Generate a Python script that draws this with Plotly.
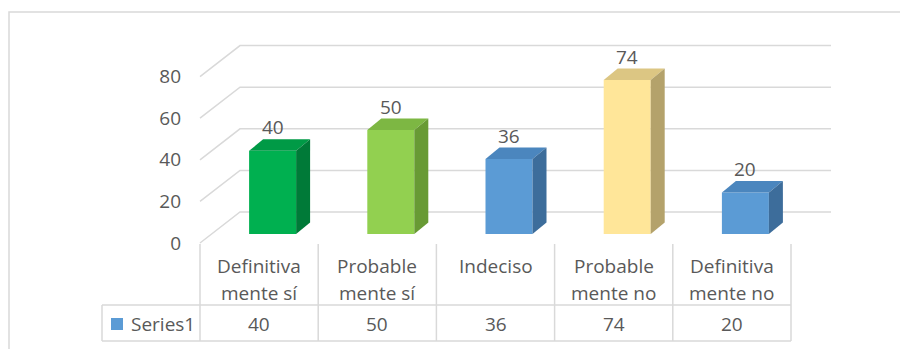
import plotly.graph_objects as go

# ---- data -------------------------------------------------------------
categories = ["Definitiva<br>mente sí", "Probable<br>mente sí", "Indeciso",
              "Probable<br>mente no", "Definitiva<br>mente no"]
values = [40, 50, 36, 74, 20]
series_name = "Series1"
y_ticks = [0, 20, 40, 60, 80]

# ---- styling ----------------------------------------------------------
front_colors = ["#00B050", "#92D050", "#5B9BD5", "#FFE699", "#5B9BD5"]
top_colors = ["#009A46", "#7DB743", "#4B86BE", "#DCC683", "#4B86BE"]
side_colors = ["#007A38", "#689A34", "#3D6D9B", "#B4A26B", "#3D6D9B"]
key_color = "#5B9BD5"
text_color = "#595959"
line_color = "#D9D9D9"
FONT = "Open Sans"
FS = 19

# ---- geometry (pixels of the 900x349 canvas) --------------------------
W, H = 900, 349
LEFT = 190            # left margin of the plot area
CAT_PX = 118.2        # width of one category column
UNIT_PX = 2.08        # pixels per value unit
FLOOR_PX = 243        # pixel row of value 0 on the front edge of the floor
TABLE_LEFT_PX = 200   # left edge of the first category column

x_lo = -0.5 - (TABLE_LEFT_PX - LEFT) / CAT_PX
x_hi = x_lo + (W - LEFT) / CAT_PX
y_hi = FLOOR_PX / UNIT_PX
y_lo = y_hi - H / UNIT_PX

# perspective offsets in data units
BACK_DX, BACK_DY = 40 / CAT_PX, 31 / UNIT_PX     # back wall
FRONT_DX, FRONT_DY = 13.5 / CAT_PX, 9 / UNIT_PX  # front face of the bars
DEPTH_DX, DEPTH_DY = 14 / CAT_PX, 11.5 / UNIT_PX  # bar depth
BAR_W = 47 / CAT_PX


def pxx(px):
    return (px - LEFT) / (W - LEFT)


def pxy(py):
    return 1 - py / H


n = len(values)
idx = list(range(n))
fig = go.Figure()

# front faces of the bars
fig.add_trace(go.Bar(
    x=[i + FRONT_DX for i in idx], y=values, base=FRONT_DY, width=BAR_W,
    marker=dict(color=front_colors, line=dict(width=0)),
    hoverinfo="skip", showlegend=False,
))

# top and side faces
for i, v in enumerate(values):
    L = i + FRONT_DX - BAR_W / 2
    R = i + FRONT_DX + BAR_W / 2
    B = FRONT_DY
    T = FRONT_DY + v
    fig.add_trace(go.Scatter(
        x=[L, R, R + DEPTH_DX, L + DEPTH_DX, L],
        y=[T, T, T + DEPTH_DY, T + DEPTH_DY, T],
        fill="toself", fillcolor=top_colors[i], mode="lines",
        line=dict(width=0), hoverinfo="skip", showlegend=False,
    ))
    fig.add_trace(go.Scatter(
        x=[R, R + DEPTH_DX, R + DEPTH_DX, R, R],
        y=[B, B + DEPTH_DY, T + DEPTH_DY, T, B],
        fill="toself", fillcolor=side_colors[i], mode="lines",
        line=dict(width=0), hoverinfo="skip", showlegend=False,
    ))

shapes = []
# gridlines: short diagonal on the floor side, then across the back wall
x_front = -0.5
x_back_end = n - 0.5 + BACK_DX
for t in y_ticks:
    shapes.append(dict(
        type="path", xref="x", yref="y", layer="below",
        path=(f"M {x_front},{t} L {x_front + BACK_DX},{t + BACK_DY} "
              f"L {x_back_end},{t + BACK_DY}"),
        line=dict(color=line_color, width=1.5),
    ))

# data table grid
ROW_TOP, ROW_MID, ROW_BOT = 244, 305, 341
KEY_LEFT = 102
for k in range(n + 1):
    shapes.append(dict(
        type="line", xref="x", yref="paper",
        x0=k - 0.5, x1=k - 0.5, y0=pxy(ROW_TOP), y1=pxy(ROW_BOT),
        line=dict(color=line_color, width=1.5),
    ))
for row in (ROW_MID, ROW_BOT):
    shapes.append(dict(
        type="line", xref="paper", yref="paper",
        x0=pxx(KEY_LEFT), x1=pxx(TABLE_LEFT_PX + n * CAT_PX),
        y0=pxy(row), y1=pxy(row),
        line=dict(color=line_color, width=1.5),
    ))
shapes.append(dict(
    type="line", xref="paper", yref="paper",
    x0=pxx(KEY_LEFT), x1=pxx(KEY_LEFT), y0=pxy(ROW_MID), y1=pxy(ROW_BOT),
    line=dict(color=line_color, width=1.5),
))
# legend key square
shapes.append(dict(
    type="rect", xref="paper", yref="paper",
    x0=pxx(111), x1=pxx(123), y0=pxy(330), y1=pxy(318),
    fillcolor=key_color, line=dict(width=0),
))
# chart area border
shapes.append(dict(
    type="rect", xref="paper", yref="paper",
    x0=pxx(9), x1=pxx(W + 10), y0=pxy(H + 10), y1=pxy(12),
    line=dict(color=line_color, width=1.5), fillcolor="rgba(0,0,0,0)",
    layer="below",
))

annotations = []
font = dict(family=FONT, size=FS, color=text_color)
# value labels above the bars
for i, v in enumerate(values):
    annotations.append(dict(
        x=i + FRONT_DX, y=FRONT_DY + v + DEPTH_DY, xref="x", yref="y",
        text=str(v), showarrow=False, font=font,
        xanchor="center", yanchor="middle", yshift=12,
    ))
# category labels (one annotation per line)
line_rows = [266, 293]
for i, cat in enumerate(categories):
    for j, part in enumerate(cat.split("<br>")):
        annotations.append(dict(
            x=i, y=pxy(line_rows[j]), xref="x", yref="paper",
            text=part, showarrow=False, font=font,
            xanchor="center", yanchor="middle",
        ))
# series row of the table
annotations.append(dict(
    x=pxx(129), y=pxy(324), xref="paper", yref="paper",
    text=series_name, showarrow=False, font=font,
    xanchor="left", yanchor="middle",
))
for i, v in enumerate(values):
    annotations.append(dict(
        x=i, y=pxy(324), xref="x", yref="paper",
        text=str(v), showarrow=False, font=font,
        xanchor="center", yanchor="middle",
    ))

fig.update_layout(
    width=W, height=H,
    margin=dict(l=LEFT, r=0, t=0, b=0, pad=0),
    paper_bgcolor="white", plot_bgcolor="rgba(0,0,0,0)",
    showlegend=False, barmode="overlay",
    shapes=shapes, annotations=annotations,
    font=font,
    xaxis=dict(range=[x_lo, x_hi], visible=False, fixedrange=True),
    yaxis=dict(range=[y_lo, y_hi], tickvals=y_ticks, ticks="",
               showgrid=False, zeroline=False, showline=False,
               tickfont=font, ticklabelstandoff=8, fixedrange=True),
)

fig.write_html("out.html")
